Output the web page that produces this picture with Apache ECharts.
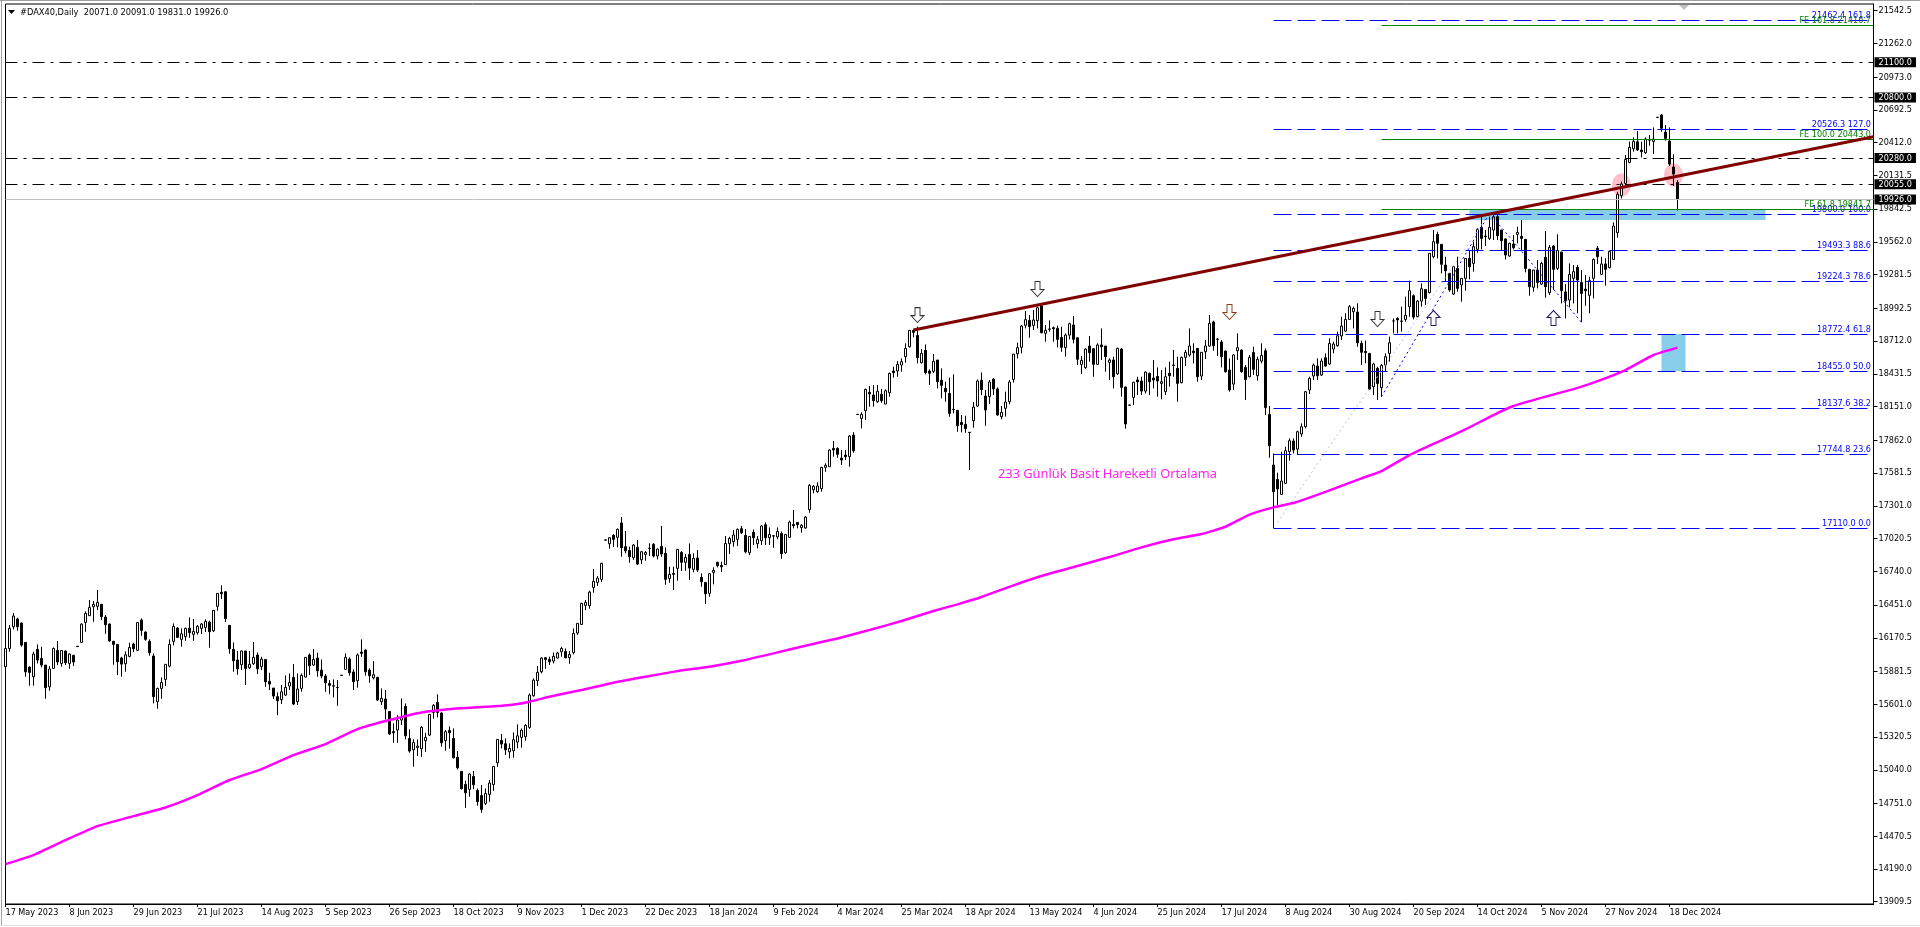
<!DOCTYPE html>
<html>
<head>
    <meta charset="utf-8">
    <title>#DAX40,Daily</title>
    <script src="https://cdn.jsdelivr.net/npm/echarts@6/dist/echarts.min.js"></script>
    <style>
        html, body { margin: 0; padding: 0; background: #fff; }
        #chart { width: 1920px; height: 927px; }
    </style>
</head>
<body>
    <div id="chart"></div>
    <script type="text/javascript">
        var dateLabels = ['17 May 2023', '8 Jun 2023', '29 Jun 2023', '21 Jul 2023', '14 Aug 2023', '5 Sep 2023', '26 Sep 2023',
            '18 Oct 2023', '9 Nov 2023', '1 Dec 2023', '22 Dec 2023', '18 Jan 2024', '9 Feb 2024', '4 Mar 2024', '25 Mar 2024',
            '18 Apr 2024', '13 May 2024', '4 Jun 2024', '25 Jun 2024', '17 Jul 2024', '8 Aug 2024', '30 Aug 2024', '20 Sep 2024',
            '14 Oct 2024', '5 Nov 2024', '27 Nov 2024', '18 Dec 2024'];
        var priceTicks = [21542.5, 21262.0, 20973.0, 20692.5, 20412.0, 20131.5, 19842.5, 19562.0, 19281.5, 18992.5, 18712.0,
            18431.5, 18151.0, 17862.0, 17581.5, 17301.0, 17020.5, 16740.0, 16451.0, 16170.5, 15881.5, 15601.0, 15320.5,
            15040.0, 14751.0, 14470.5, 14190.0, 13909.5];
        var boxLevels = [21100, 20800, 20280, 20055, 19926];

        var opens = [
            15923,16079,16265,16331,16297,16131,15920,15837,16071,15994,
            15937,15751,15908,16062,15951,16057,15951,16020,16098,16131,
            16302,16360,16437,16440,16457,16348,16288,16140,16114,15997,
            15948,16011,16117,16063,16322,16220,16140,16014,15623,15737,
            15814,15928,16140,16254,16157,16180,16254,16200,16214,16251,
            16260,16305,16231,16440,16560,16565,16277,16071,15980,15940,
            16057,15914,15948,16023,15923,15985,15797,15740,15666,15640,
            15680,15757,15831,15623,15737,15834,16023,15937,15997,15894,
            15843,15780,15759,15746,15850,15900,15988,15877,15803,16048,
            16065,15894,15828,15831,15623,15646,15540,15368,15380,15466,
            15583,15308,15211,15231,15220,15289,15337,15531,15617,15526,
            15289,15377,15308,15146,15026,14914,14872,14983,14863,14820,
            14752,14829,14914,15100,15291,15263,15194,15203,15277,15317,
            15323,15403,15674,15803,15880,16000,15985,15971,15997,16051,
            16054,16000,16043,16211,16285,16448,16445,16602,16645,16671,
            17009,16976,17048,17031,17154,16951,16919,16856,16945,16839,
            16885,16938,16971,16871,16954,16894,16679,16722,16765,16902,
            16817,16885,16757,16854,16688,16645,16551,16731,16817,16791,
            16797,16977,16994,17014,17105,17048,16899,17074,16977,17002,
            17139,17028,17044,17034,17065,16899,17031,17142,17159,17114,
            17111,17268,17439,17422,17448,17630,17636,17793,17793,17710,
            17736,17722,17907,18085,18050,18116,18273,18250,18193,18256,
            18173,18270,18456,18456,18507,18579,18664,18804,18761,18527,
            18633,18456,18453,18550,18376,18307,18264,18128,18119,18016,
            17999,17931,18030,18156,18376,18242,18236,18387,18302,18065,
            18136,18193,18384,18604,18659,18847,18890,18847,18887,19013,
            18779,18816,18827,18821,18744,18656,18764,18850,18741,18513,
            18484,18670,18647,18513,18679,18670,18530,18550,18433,18644,
            18319,18165,18230,18379,18370,18284,18436,18396,18410,18350,
            18279,18436,18507,18479,18356,18573,18593,18627,18650,18413,
            18621,18670,18876,18730,18704,18627,18464,18344,18630,18636,
            18487,18407,18616,18416,18541,18630,18084,17650,17528,17399,
            17493,17765,17856,17787,17916,17979,18293,18413,18499,18422,
            18570,18516,18644,18673,18756,18798,18898,18964,18961,18693,
            18624,18607,18321,18479,18313,18507,18607,18885,18907,18884,
            18898,19007,19101,18921,19055,19155,19127,19435,19627,19541,
            19364,19293,19115,19335,19193,19250,19421,19378,19498,19687,
            19612,19592,19664,19778,19664,19587,19441,19544,19627,19610,
            19584,19327,19173,19321,19201,19430,19127,19527,19335,19475,
            19133,19064,19250,19344,19215,19158,19104,19250,19507,19284,
            19373,19341,19412,19641,19958,20063,20243,20360,20420,20349,
            20326,20436,20423,20630,20649,20503,20426,20203,20071];
        var closes = [
            16079,16251,16357,16265,16108,15880,15874,16031,15980,15937,
            15743,15903,16079,15963,16062,15957,16031,15963,16095,16288,
            16380,16431,16457,16474,16351,16282,16143,16114,15965,15945,
            16025,16088,16077,16302,16234,16157,16043,15666,15737,15788,
            15943,16114,16268,16174,16205,16251,16214,16225,16268,16288,
            16311,16222,16405,16551,16548,16334,16077,15974,15905,16057,
            15908,15943,16003,15905,15988,15794,15774,15671,15631,15708,
            15746,15788,15603,15731,15848,16003,15931,15985,15888,15843,
            15786,15763,15757,15743,15848,16003,15871,15794,16023,16037,
            15880,15846,15854,15637,15651,15560,15346,15357,15466,15494,
            15331,15200,15274,15243,15403,15317,15514,15591,15531,15271,
            15366,15357,15143,15057,14877,14843,15003,14912,14766,14700,
            14837,14926,15069,15300,15260,15211,15223,15297,15331,15380,
            15420,15680,15808,15874,15997,15985,15965,16011,16040,16079,
            16000,16028,16208,16294,16465,16474,16562,16654,16682,16808,
            17007,17028,17014,17099,16942,16916,16865,16965,16802,16908,
            16902,16936,16871,16931,16888,16671,16714,16714,16928,16817,
            16859,16768,16851,16751,16651,16548,16719,16748,16788,16779,
            16979,17022,17051,17099,17071,16908,17039,17028,17014,17128,
            17028,17056,17042,17082,16891,17056,17162,17131,17139,17134,
            17205,17476,17468,17471,17630,17648,17779,17779,17742,17693,
            17722,17899,17773,18083,18084,18299,18259,18202,18282,18202,
            18287,18436,18442,18513,18536,18650,18804,18787,18570,18607,
            18442,18436,18539,18364,18333,18279,18093,18126,17987,17996,
            17962,17929,18147,18370,18296,18122,18362,18302,18079,18102,
            18190,18362,18601,18656,18841,18896,18836,18893,18998,18784,
            18804,18814,18818,18727,18659,18764,18861,18727,18556,18547,
            18644,18613,18513,18679,18664,18579,18550,18407,18650,18316,
            18002,18163,18359,18362,18284,18447,18364,18379,18370,18364,
            18407,18416,18505,18350,18573,18616,18670,18613,18407,18616,
            18670,18864,18673,18728,18579,18450,18293,18593,18656,18450,
            18384,18573,18470,18556,18590,18142,17816,17422,17445,17513,
            17773,17859,17779,17936,17979,18279,18393,18507,18416,18541,
            18499,18693,18687,18758,18841,18898,19007,18993,18698,18616,
            18613,18301,18516,18350,18504,18578,18698,18884,18893,18882,
            18933,19144,18918,19055,19161,19078,19464,19564,19550,19370,
            19315,19150,19350,19164,19250,19421,19350,19521,19670,19592,
            19607,19687,19778,19615,19572,19450,19550,19512,19644,19592,
            19335,19178,19321,19215,19378,19178,19515,19327,19490,19144,
            19058,19284,19307,19235,19121,19144,19230,19412,19435,19373,
            19327,19481,19698,19969,20058,20269,20372,20423,20349,20335,
            20443,20434,20443,20628,20535,20449,20229,20143,19926];
        var highs = [
            16094,16280,16382,16342,16302,16131,15923,16051,16114,16094,
            15937,15928,16088,16143,16062,16062,16037,16025,16100,16294,
            16397,16494,16485,16580,16457,16365,16294,16145,16114,16008,
            16054,16128,16128,16305,16337,16225,16157,16037,15743,15831,
            15943,16157,16294,16262,16251,16257,16345,16331,16280,16297,
            16328,16317,16408,16551,16620,16568,16280,16131,16057,16062,
            16057,16057,16134,16045,16008,15985,15871,15740,15703,15766,
            15848,15865,15945,15865,15865,16003,16037,16074,16043,15985,
            15860,15808,15814,15808,15851,16037,16003,15900,16037,16157,
            16071,15908,15971,15837,15737,15723,15540,15437,15508,15651,
            15608,15386,15300,15300,15414,15357,15517,15603,15686,15531,
            15380,15411,15394,15200,15026,14946,15009,15029,14880,14909,
            14880,14952,15069,15300,15346,15309,15266,15360,15429,15394,
            15431,15694,15823,15928,16003,16003,16008,16045,16051,16094,
            16079,16057,16251,16294,16471,16494,16574,16759,16699,16814,
            17010,17031,17059,17108,17205,17085,16951,16974,17008,16914,
            16914,16979,16982,16934,17128,16945,16779,16779,16931,16914,
            16888,16979,16894,16922,16722,16645,16722,16774,16822,16822,
            17042,17036,17094,17108,17128,17102,17042,17099,17042,17136,
            17159,17116,17051,17116,17082,17059,17174,17265,17159,17145,
            17214,17488,17479,17502,17636,17665,17785,17856,17802,17779,
            17779,17907,17933,18085,18102,18304,18327,18336,18336,18302,
            18299,18442,18493,18541,18564,18693,18804,18813,18836,18644,
            18684,18470,18601,18550,18479,18364,18399,18427,18122,18079,
            18073,17933,18190,18384,18444,18293,18379,18393,18316,18156,
            18279,18379,18601,18699,18850,18970,18936,18978,19007,19036,
            18850,18890,18836,18844,18836,18778,18870,18927,18741,18584,
            18650,18756,18650,18693,18821,18670,18564,18579,18656,18650,
            18322,18165,18364,18407,18407,18453,18442,18550,18487,18464,
            18487,18536,18636,18579,18579,18636,18821,18693,18650,18616,
            18721,18936,18887,18736,18721,18630,18564,18601,18778,18641,
            18507,18593,18664,18579,18693,18650,18156,17750,17585,17765,
            17807,17879,17879,17945,18007,18284,18407,18521,18564,18564,
            18607,18736,18707,18793,18921,18950,19021,19007,19036,18716,
            18716,18607,18527,18493,18516,18607,18750,18907,18916,19007,
            19093,19230,19113,19064,19207,19155,19464,19664,19650,19541,
            19435,19293,19355,19435,19250,19421,19492,19564,19678,19778,
            19664,19778,19807,19792,19664,19592,19555,19621,19692,19750,
            19584,19327,19321,19407,19392,19655,19535,19535,19627,19478,
            19201,19378,19364,19364,19321,19278,19264,19421,19527,19435,
            19421,19487,19729,19992,20078,20306,20421,20458,20512,20420,
            20458,20478,20543,20630,20658,20563,20543,20312,20091];
        var lows = [
            15903,16051,16242,16231,16094,15837,15760,15760,15951,15917,
            15648,15717,15905,15937,15923,15937,15905,15928,16093,16128,
            16222,16357,16308,16408,16322,16205,16137,15940,15851,15837,
            15880,16003,16048,16060,16188,16145,16017,15608,15563,15648,
            15757,15917,16105,16171,16094,16145,16171,16145,16197,16203,
            16220,16085,16220,16402,16502,16305,16034,15880,15854,15894,
            15766,15903,15937,15860,15894,15751,15723,15646,15508,15603,
            15674,15723,15594,15594,15708,15831,15851,15928,15837,15823,
            15708,15688,15660,15588,15847,15894,15846,15723,15743,16008,
            15846,15785,15814,15628,15594,15471,15337,15271,15271,15423,
            15300,15186,15066,15157,15151,15194,15329,15477,15488,15237,
            15203,15220,15137,15043,14872,14714,14809,14874,14732,14672,
            14737,14766,14860,15066,15223,15166,15137,15143,15223,15229,
            15289,15391,15666,15757,15866,15905,15937,15951,15994,16008,
            15994,15948,16028,16194,16282,16408,16420,16557,16614,16648,
            17006,16934,16948,16945,16865,16894,16814,16837,16794,16802,
            16831,16871,16859,16842,16865,16625,16642,16580,16659,16742,
            16745,16665,16731,16734,16608,16460,16522,16628,16774,16734,
            16794,16888,16951,16956,17059,16894,16879,16965,16936,16965,
            16965,16965,16942,17014,16848,16888,17028,17108,17108,17071,
            17105,17242,17408,17413,17422,17593,17636,17722,17713,17650,
            17693,17636,17756,18083,17965,18036,18150,18150,18184,18184,
            18173,18236,18399,18407,18450,18527,18656,18744,18521,18521,
            18427,18336,18439,18307,18222,18193,18064,18093,17936,17930,
            17927,17608,17970,18150,18250,17987,18173,18250,18073,18042,
            18065,18170,18356,18564,18607,18821,18741,18807,18821,18779,
            18707,18793,18707,18659,18621,18579,18727,18693,18507,18430,
            18476,18536,18407,18507,18550,18450,18379,18307,18422,18236,
            17962,18163,18165,18250,18250,18264,18250,18307,18236,18213,
            18250,18322,18407,18193,18350,18499,18579,18521,18364,18379,
            18559,18664,18630,18584,18487,18442,18279,18293,18550,18442,
            18207,18402,18422,18373,18521,18079,17713,17116,17308,17393,
            17488,17687,17750,17736,17893,17965,18259,18379,18379,18413,
            18493,18507,18607,18664,18721,18793,18898,18821,18664,18507,
            18521,18293,18250,18207,18236,18450,18536,18778,18778,18793,
            18878,18921,18898,18916,19007,19021,19121,19421,19421,19293,
            19221,19135,19107,19135,19050,19144,19241,19307,19470,19498,
            19527,19578,19578,19578,19487,19412,19435,19498,19550,19492,
            19301,19101,19135,19164,19193,19084,19107,19150,19321,19035,
            18907,19001,19035,18950,18873,19015,18950,19078,19373,19278,
            19187,19335,19407,19598,19935,20049,20235,20335,20343,20286,
            20315,20386,20315,20628,20506,20429,20212,20041,19831];

        // 233 SMA read at these bars
        var maBars = [0,7,15,23,32,40,48,56,64,72,80,88,96,104,112,119,124,128,131,136,144,152,160,168,176,184,192,200,208,216,224,232,238,
            244,252,260,268,276,284,292,299,305,311,317,322,330,339,344,351,357,359,365,372,377,385,392,397,405,412,418];
        var maValues = [14232,14309,14437,14557,14643,14717,14823,14952,15046,15166,15260,15388,15466,15531,15563,15577,15588,15603,15623,15666,15723,15786,15837,15885,15923,15974,16037,16103,16165,16237,16314,16400,16457,
            16520,16620,16710,16786,16862,16945,17014,17059,17122,17225,17288,17325,17421,17536,17599,17736,17832,17862,17956,18079,18156,18236,18301,18356,18464,18593,18656];

        var fibLevels = [21462.4, 20526.3, 19800.0, 19493.3, 19224.3, 18772.4, 18455.0, 18137.6, 17744.8, 17110.0];
        var fibPercents = ['161.8', '127.0', '100.0', '88.6', '78.6', '61.8', '50.0', '38.2', '23.6', '0.0'];
        var expLevels = [21416.7, 20443.0, 19841.7];
        var expPercents = ['161.8', '100.0', '61.8'];
        var dashLevels = [21100, 20800, 20280, 20055];
        var lastClose = 19926;
        var trendFrom = [227, 18807];
        var trendTo = [467, 20463];
        var downArrows = [[228, 18935], [258, 19158], [306, 18961], [343, 18901]];
        var upArrows = [[357, 18910], [387, 18910]];
        var pinkSpots = [[404, 20049], [417, 20135]];
        var maNote = '233 Günlük Basit Hareketli Ortalama';
        var headerText = '#DAX40,Daily  20071.0 20091.0 19831.0 19926.0';

        var uiFont = '"DejaVu Sans Condensed", "Liberation Sans", sans-serif';
        var barCount = 468;
        var categories = [];
        for (var i = 0; i < barCount; i++) {
            categories.push(i % 16 === 0 && dateLabels[i / 16] ? dateLabels[i / 16] : '');
        }
        function hasLabel(index, value) { return value !== ''; }

        var candles = opens.map(function (o, i) { return [o, closes[i], lows[i], highs[i]]; });
        var maLine = maBars.map(function (b, i) { return [b, maValues[i]]; });

        // horizontal levels go through a custom series so they land on whole pixels
        var levelRows = [], levelStyles = [], levelTexts = [];
        function addLevel(from, to, value, style, text) {
            levelRows.push([from, to, value]);
            levelStyles.push(style);
            levelTexts.push(text || '');
        }
        addLevel(0, 467, lastClose, { stroke: '#c0c0c0', lineWidth: 1 });
        dashLevels.forEach(function (v) {
            addLevel(0, 467, v, { stroke: '#000', lineWidth: 1, lineDash: [12, 6, 3, 6] });
        });
        fibLevels.forEach(function (v, i) {
            addLevel(317, 466, v, { stroke: '#0000ff', lineWidth: 1, lineDash: [18, 6] }, v.toFixed(1) + ' ' + fibPercents[i]);
        });
        expLevels.forEach(function (v, i) {
            addLevel(344, 467, v, { stroke: '#008000', lineWidth: 1 }, 'FE ' + expPercents[i] + ' ' + v.toFixed(1));
        });

        function renderLevel(params, api) {
            var a = api.coord([api.value(0), api.value(2)]);
            var b = api.coord([api.value(1), api.value(2)]);
            var y = Math.round(a[1]) + 0.5;
            var style = levelStyles[params.dataIndex];
            var children = [{
                type: 'line',
                shape: { x1: a[0], y1: y, x2: b[0], y2: y },
                style: { stroke: style.stroke, lineWidth: style.lineWidth, lineDash: style.lineDash }
            }];
            if (levelTexts[params.dataIndex]) {
                children.push({
                    type: 'text',
                    x: 1871,
                    y: y,
                    style: {
                        text: levelTexts[params.dataIndex],
                        fill: style.stroke,
                        font: '9px ' + uiFont,
                        align: 'right',
                        verticalAlign: 'bottom'
                    }
                });
            }
            return { type: 'group', children: children };
        }

        function segment(a, b, style) {
            return [{ coord: a, lineStyle: style, label: { show: false } }, { coord: b }];
        }
        var lines = [];
        lines.push(segment([317, 17744.8], [317, 17110], { color: '#000080', width: 1, type: 'solid' }));
        lines.push(segment([318, 17159], [371, 19807], { color: '#b0c4de', width: 1, type: [2, 3] }));
        lines.push(segment([344, 18236], [371, 19807], { color: '#0000ff', width: 1, type: [2, 3] }));
        lines.push(segment([371, 19807], [394, 18873], { color: '#0000ff', width: 1, type: [2, 3] }));
        lines.push(segment(trendFrom, trendTo, { color: '#800000', width: 3, type: 'solid' }));

        var marks = [];
        var downPath = 'path://M4,0 L9,0 L9,8 L13,8 L6.5,15 L0,8 L4,8 Z';
        var upPath = 'path://M6.5,0 L13,7 L9,7 L9,15 L4,15 L4,7 L0,7 Z';
        downArrows.forEach(function (p, i) {
            marks.push({ coord: p, symbol: downPath, symbolSize: [13, 15], label: { show: false },
                itemStyle: { color: '#fff', borderColor: i === 2 ? '#8b3a1a' : '#333', borderWidth: 1 } });
        });
        upArrows.forEach(function (p) {
            marks.push({ coord: p, symbol: upPath, symbolSize: [13, 15], label: { show: false },
                itemStyle: { color: '#fff', borderColor: '#2a1a66', borderWidth: 1 } });
        });
        marks.push({ coord: [247.5, 17570], symbol: 'circle', symbolSize: 1, itemStyle: { color: 'transparent' },
            label: { show: true, formatter: maNote, position: 'right', distance: 0, color: '#ff22ee', fontSize: 12.8, fontFamily: '"Noto Sans", sans-serif' } });

        var pinkMarks = pinkSpots.map(function (p) {
            return { coord: p, symbol: 'circle', symbolSize: [19, 23], label: { show: false }, itemStyle: { color: '#ffc0cb' } };
        });

        var chart = echarts.init(document.getElementById('chart'), null, { renderer: 'canvas' });
        chart.setOption({
            animation: false,
            grid: { left: 5.5, top: 4, right: 46.5, bottom: 23, show: true, borderColor: '#000', borderWidth: 1, backgroundColor: '#fff' },
            xAxis: {
                type: 'category',
                data: categories,
                boundaryGap: false,
                axisLine: { lineStyle: { color: '#000', width: 1 } },
                axisTick: { interval: hasLabel, length: 3, lineStyle: { color: '#000' } },
                axisLabel: { interval: hasLabel, align: 'left', margin: 4, color: '#000', fontSize: 9, fontFamily: uiFont, hideOverlap: false },
                splitLine: { show: false }
            },
            yAxis: {
                type: 'value',
                position: 'right',
                min: 13890,
                max: 21600,
                axisLine: { show: true, lineStyle: { color: '#000', width: 1 } },
                axisTick: { show: true, length: 4, customValues: priceTicks, lineStyle: { color: '#000' } },
                axisLabel: {
                    customValues: priceTicks.concat(boxLevels),
                    margin: 1,
                    formatter: function (v) {
                        return (boxLevels.indexOf(v) >= 0 ? '{box|' : '{tick|') + v.toFixed(1) + '}';
                    },
                    rich: {
                        tick: { color: '#000', fontSize: 9, fontFamily: uiFont, padding: [0, 0, 0, 4] },
                        box: { color: '#fff', backgroundColor: '#000', fontSize: 9, lineHeight: 9, fontFamily: uiFont, padding: [1, 4, 0, 4] }
                    }
                },
                splitLine: { show: false }
            },
            series: [
                {
                    name: 'spots',
                    type: 'line',
                    z: 1,
                    data: [],
                    markPoint: { z: 1, silent: true, data: pinkMarks }
                },
                {
                    name: '#DAX40',
                    type: 'candlestick',
                    z: 2,
                    barWidth: 2,
                    data: candles,
                    itemStyle: { color: '#fff', color0: '#000', borderColor: '#000', borderColor0: '#000', borderWidth: 1 },
                    markArea: {
                        silent: true,
                        itemStyle: { color: '#87ceeb' },
                        data: [
                            [{ coord: [366, 19841.7] }, { coord: [440, 19749] }],
                            [{ coord: [414, 18772.4] }, { coord: [420, 18455] }]
                        ]
                    },
                    markLine: { silent: true, symbol: ['none', 'none'], data: lines },
                    markPoint: { silent: true, data: marks }
                },
                {
                    name: 'levels',
                    type: 'custom',
                    z: 3,
                    silent: true,
                    clip: false,
                    data: levelRows,
                    renderItem: renderLevel
                },
                {
                    name: '233 SMA',
                    type: 'line',
                    z: 4,
                    data: maLine,
                    showSymbol: false,
                    symbol: 'none',
                    smooth: 0.15,
                    lineStyle: { color: '#ff00ff', width: 2.5 }
                }
            ],
            graphic: [
                { type: 'rect', shape: { x: 1, y: 0, width: 1, height: 925 }, style: { fill: '#a0a0a0' }, silent: true },
                { type: 'rect', shape: { x: 0, y: 0, width: 1920, height: 1 }, style: { fill: '#a0a0a0' }, silent: true },
                { type: 'rect', shape: { x: 0, y: 925, width: 1920, height: 1 }, style: { fill: '#e0e0e0' }, silent: true },
                { type: 'polygon', shape: { points: [[8, 10], [15, 10], [11.5, 14]] }, style: { fill: '#000' }, silent: true },
                { type: 'polygon', shape: { points: [[1679, 5], [1689, 5], [1684, 10]] }, style: { fill: '#c0c0c0' }, silent: true },
                { type: 'text', x: 20, y: 12.5, silent: true, style: { text: headerText, fill: '#000', font: '9.2px ' + uiFont, verticalAlign: 'middle' } }
            ]
        });
    </script>
</body>
</html>
